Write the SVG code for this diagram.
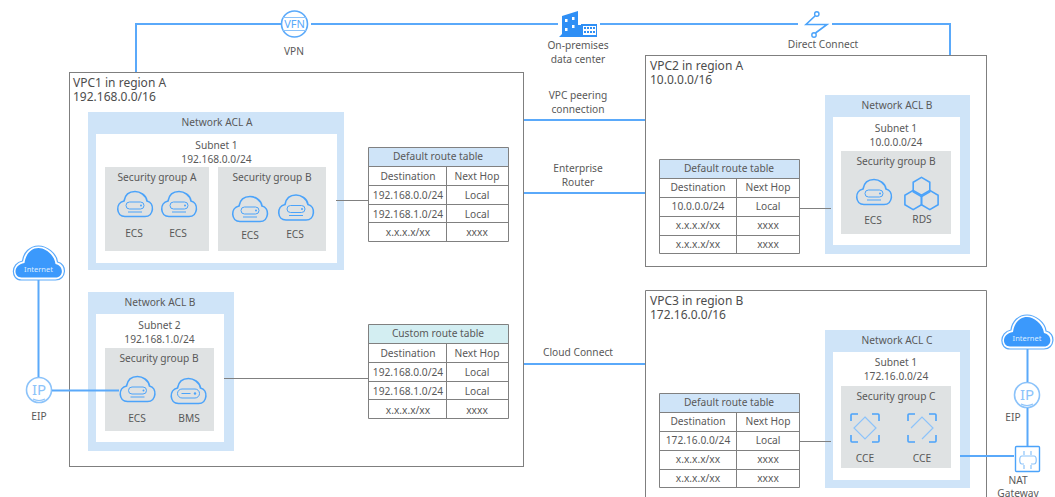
<svg xmlns="http://www.w3.org/2000/svg" width="1055" height="497" viewBox="0 0 1055 497">
<style>
text{font-family:"Noto Sans","Open Sans","Liberation Sans",sans-serif;font-size:10.2px;fill:#595959;text-anchor:middle}
.t{font-size:12px;text-anchor:start;fill:#4d4d4d}
.vpc{fill:#fff;stroke:#7f7f7f;stroke-width:1}
.acl{fill:#cfe4f8}.sub{fill:#fff}.sg{fill:#dfe2e3}
.blue{fill:none;stroke:#5aa9fa;stroke-width:2}
.gray{fill:none;stroke:#808080;stroke-width:1}
.ic{fill:none;stroke:#4ba3fa;stroke-width:1.6}
.ic2{fill:none;stroke:#8cc3fa;stroke-width:1.2}
.hd{fill:#cfe4f8}.hdc{fill:#d3eef2}
.tb{fill:none;stroke:#808080;stroke-width:1}
</style>
<defs>
<path id="cloudshape" class="ic" d="M-10,12.500H10C19,12.500 20,-1 12,-3C11,-9 5,-12.500 0,-12.500C-6,-12.500 -10,-9 -11,-3C-20,-1 -19,12.500 -10,12.500Z"/>
<g id="ecs"><use href="#cloudshape"/><rect x="-9" y="-2" width="18" height="7" rx="3.500" fill="none" stroke="#4ba3fa" stroke-width="1"/><circle cx="6" cy="1.500" r="1" fill="#4ba3fa"/><path d="M-7,8H7" stroke="#4ba3fa" stroke-width="1"/></g>
<g id="bms"><use href="#cloudshape"/><rect x="-11" y="-2" width="22" height="9" rx="4.500" fill="none" stroke="#4ba3fa" stroke-width="1"/><path d="M-7,2.500H2" stroke="#4ba3fa" stroke-width="1"/><circle cx="6.500" cy="2.500" r="1.200" fill="#4ba3fa"/></g>
<g id="inet"><path d="M-17,15H17C28,15 29,-1 19,-3C18,-12 8,-19 0,-19C-9,-19 -15,-12 -16,-4C-28,-2 -28,15 -17,15Z" fill="#fff" stroke="#5aa9fa" stroke-width="1.200"/><path d="M-17,12.500H17C25,12.500 26,1 17,-1C16,-10 7,-17 0,-17C-8,-17 -13,-10 -14,-2C-26,0 -25,12.500 -17,12.500Z" fill="#3b99fc"/><text y="7" style="font-size:7.500px;fill:#dcecff">Internet</text></g>
<g id="ip"><circle r="12.500" fill="#fff" stroke="#8cc3fa" stroke-width="1.600"/><text y="5" style="font-size:15px;fill:#8cc3fa">IP</text><path d="M-6,9Q0,12 6,9" class="ic2"/></g>
<path id="cce" class="ic" d="M-14,-7V-13Q-14,-14 -13,-14H-7M7,-14H13Q14,-14 14,-13V-7M14,7V13Q14,14 13,14H7M-7,14H-13Q-14,14 -14,13V7"/>
<path id="hexa" class="ic" d="M0,-9.600L8.300,-4.800V4.800L0,9.600L-8.300,4.800V-4.800Z"/>
</defs>

<g id="vpc1"><rect class="vpc" x="69.500" y="72.500" width="454" height="394"/><text class="t" x="73" y="87">VPC1 in region A<tspan x="73" dy="14">192.168.0.0/16</tspan></text></g>
<g id="vpc2"><rect class="vpc" x="645.500" y="55.500" width="341" height="211"/><text class="t" x="650" y="70">VPC2 in region A<tspan x="650" dy="14">10.0.0.0/16</tspan></text></g>
<g id="vpc3"><path class="vpc" d="M645.500,497V290.500H986.500V497"/><text class="t" x="650" y="305">VPC3 in region B<tspan x="650" dy="14">172.16.0.0/16</tspan></text></g>

<g id="acl-a"><rect class="acl" x="88" y="112" width="256" height="158"/><rect class="sub" x="96" y="134" width="241" height="129"/>
<text x="217" y="126">Network ACL A</text><text x="216.500" y="149">Subnet 1<tspan x="216.500" dy="14">192.168.0.0/24</tspan></text>
<rect class="sg" x="105" y="167" width="104" height="84"/><rect class="sg" x="218" y="167" width="108" height="84"/>
<text x="157" y="181">Security group A</text><text x="272" y="181">Security group B</text></g>
<g id="ecs-a1"><use href="#ecs" x="135" y="204"/><text x="134" y="237">ECS</text></g>
<g id="ecs-a2"><use href="#ecs" x="179" y="204"/><text x="178" y="237">ECS</text></g>
<g id="ecs-b1"><use href="#ecs" x="250" y="209"/><text x="250" y="239">ECS</text></g>
<g id="ecs-b2"><use href="#ecs" x="296" y="207.500"/><text x="295" y="238">ECS</text></g>

<g id="acl-b1"><rect class="acl" x="88" y="292" width="146" height="159"/><rect class="sub" x="96" y="314" width="128" height="128"/>
<text x="160" y="306">Network ACL B</text><text x="159.500" y="329">Subnet 2<tspan x="159.500" dy="14">192.168.1.0/24</tspan></text>
<rect class="sg" x="105" y="348" width="109" height="83"/><text x="159" y="362">Security group B</text></g>
<g id="ecs-c"><use href="#ecs" x="137.500" y="389"/><text x="137" y="422">ECS</text></g>
<g id="bms-c"><use href="#bms" x="188.500" y="391"/><text x="189" y="422">BMS</text></g>

<g id="table-default-1">
<rect class="hd" x="368.500" y="147.500" width="140" height="19"/>
<path class="tb" d="M368.500,147.500H508.500V241.500H368.500ZM368.500,166.500H508.500M368.500,185.500H508.500M368.500,204.500H508.500M368.500,222.500H508.500M446.500,166.500V241.500"/>
<text x="438" y="160">Default route table</text>
<text x="408" y="180">Destination</text><text x="477" y="180">Next Hop</text>
<text x="408" y="199">192.168.0.0/24</text><text x="477" y="199">Local</text>
<text x="408" y="218">192.168.1.0/24</text><text x="477" y="218">Local</text>
<text x="408" y="236">x.x.x.x/xx</text><text x="477" y="236">xxxx</text>
</g>
<g id="table-custom">
<rect class="hdc" x="368.500" y="324.500" width="140" height="19"/>
<path class="tb" d="M368.500,324.500H508.500V418.500H368.500ZM368.500,343.500H508.500M368.500,362.500H508.500M368.500,381.500H508.500M368.500,399.500H508.500M446.500,343.500V418.500"/>
<text x="438" y="337">Custom route table</text>
<text x="408" y="357">Destination</text><text x="477" y="357">Next Hop</text>
<text x="408" y="376">192.168.0.0/24</text><text x="477" y="376">Local</text>
<text x="408" y="395">192.168.1.0/24</text><text x="477" y="395">Local</text>
<text x="408" y="414">x.x.x.x/xx</text><text x="477" y="414">xxxx</text>
</g>
<g id="table-default-2">
<rect class="hd" x="659.500" y="159.500" width="140" height="19"/>
<path class="tb" d="M659.500,159.500H799.500V253.500H659.500ZM659.500,178.500H799.500M659.500,197.500H799.500M659.500,216.500H799.500M659.500,235.500H799.500M736.500,178.500V253.500"/>
<text x="729" y="172">Default route table</text>
<text x="698" y="191">Destination</text><text x="768" y="191">Next Hop</text>
<text x="698" y="210">10.0.0.0/24</text><text x="768" y="210">Local</text>
<text x="698" y="229">x.x.x.x/xx</text><text x="768" y="229">xxxx</text>
<text x="698" y="248">x.x.x.x/xx</text><text x="768" y="248">xxxx</text>
</g>
<g id="table-default-3">
<rect class="hd" x="659.500" y="393.500" width="140" height="19"/>
<path class="tb" d="M659.500,393.500H799.500V487.500H659.500ZM659.500,412.500H799.500M659.500,431.500H799.500M659.500,450.500H799.500M659.500,469.500H799.500M736.500,412.500V487.500"/>
<text x="729" y="406">Default route table</text>
<text x="698" y="425">Destination</text><text x="768" y="425">Next Hop</text>
<text x="698" y="444">172.16.0.0/24</text><text x="768" y="444">Local</text>
<text x="698" y="463">x.x.x.x/xx</text><text x="768" y="463">xxxx</text>
<text x="698" y="482">x.x.x.x/xx</text><text x="768" y="482">xxxx</text>
</g>

<g id="acl-b2"><rect class="acl" x="825" y="95" width="145" height="159"/><rect class="sub" x="833" y="117" width="127" height="128"/>
<text x="897" y="109">Network ACL B</text><text x="896" y="132">Subnet 1<tspan x="896" dy="14">10.0.0.0/24</tspan></text>
<rect class="sg" x="841" y="151" width="110" height="83"/><text x="896" y="165">Security group B</text></g>
<g id="ecs-d"><use href="#ecs" x="874" y="192"/><text x="873" y="224">ECS</text></g>
<g id="rds"><use href="#hexa" x="921.500" y="187"/><use href="#hexa" x="913.200" y="200"/><use href="#hexa" x="929.800" y="200"/><text x="922" y="223">RDS</text></g>

<g id="acl-c"><rect class="acl" x="825" y="330" width="145" height="158"/><rect class="sub" x="833" y="352" width="127" height="128"/>
<text x="897" y="344">Network ACL C</text><text x="896" y="366">Subnet 1<tspan x="896" dy="14">172.16.0.0/24</tspan></text>
<rect class="sg" x="841" y="386" width="110" height="82"/><text x="896" y="400">Security group C</text></g>
<g id="cce1"><use href="#cce" x="865" y="428"/><path class="ic2" d="M865,417L876,428L865,439L854,428Z"/><text x="865" y="462">CCE</text></g>
<g id="cce2"><use href="#cce" x="922" y="428"/><path class="ic2" d="M911,428L922,417L933,428L922,439"/><text x="922" y="462">CCE</text></g>

<g id="vpn"><circle cx="294.500" cy="24" r="13" fill="#fff" stroke="#5aa9fa" stroke-width="1.600"/><path class="ic2" d="M283,17.500H306M283,30.500H306"/><text x="294.500" y="28" style="font-size:11px;fill:#5aa9fa">VFN</text><text x="294" y="55">VPN</text></g>
<g id="dc"><path fill="#2f8ff5" d="M559,37L562,34V16L578,11V25H581V24H597V37Z"/><path fill="#fff" d="M565,19h2.500v3h-2.500zM565,28h2.500v3h-2.500zM572,17h2.500v3h-2.500zM572,25h2.500v3h-2.500zM583,26h13v9h-13z"/><path fill="#2f8ff5" d="M584,27h2v2h-2zM587,27h2v2h-2zM590,27h2v2h-2zM593,27h2v2h-2zM584,31h2v2h-2zM587,31h2v2h-2zM590,31h2v2h-2zM593,31h2v2h-2z"/><text x="578" y="49">On-premises<tspan x="578" dy="14">data center</tspan></text></g>
<g id="dconn"><path class="ic" d="M815,16L806,24.500H827L815.500,33"/><circle cx="816.800" cy="14" r="2.200" fill="#fff" stroke="#4ba3fa" stroke-width="1.400"/><circle cx="814" cy="35" r="2.200" fill="#fff" stroke="#4ba3fa" stroke-width="1.400"/><text x="823" y="48">Direct Connect</text></g>
<g id="peering-label"><text x="578" y="99">VPC peering<tspan x="578" dy="13.500">connection</tspan></text></g>
<g id="er-label"><text x="578" y="172">Enterprise<tspan x="578" dy="13.500">Router</tspan></text></g>
<g id="cc-label"><text x="578" y="356">Cloud Connect</text></g>
<g id="internet-left"><use href="#inet" x="38.500" y="265"/></g>
<g id="eip-left"><use href="#ip" x="39" y="390"/><text x="39" y="420">EIP</text></g>
<g id="internet-right"><use href="#inet" x="1027" y="334"/></g>
<g id="eip-right"><use href="#ip" x="1027" y="395"/><text x="1013" y="421">EIP</text></g>
<g id="nat"><rect x="1015.500" y="446.500" width="24" height="25" rx="1" fill="#fff" stroke="#4ba3fa" stroke-width="1.400"/><path class="ic2" d="M1022,456H1034C1037,456 1037,464 1034,464H1031M1024,464H1022C1019,464 1019,456 1022,456M1024,451V455M1031,451V455M1024,465V469M1031,465V469"/><text x="1018" y="484">NAT<tspan x="1018" dy="13">Gateway</tspan></text></g>

<g id="connectors">
<path class="blue" d="M136,72V24H281M311,24H558M600,24H798M832,24H950V55"/>
<path class="blue" d="M524,120H645M524,193H645M524,364H645"/>
<path class="blue" d="M38.500,280V377M52,390.500H119M1027.500,349V382M1027.500,408V446M960,456H1014"/>
<path class="gray" d="M336,200.500H368M224,378.500H368M800,208.500H831M800,441.500H831"/>
</g>
</svg>
